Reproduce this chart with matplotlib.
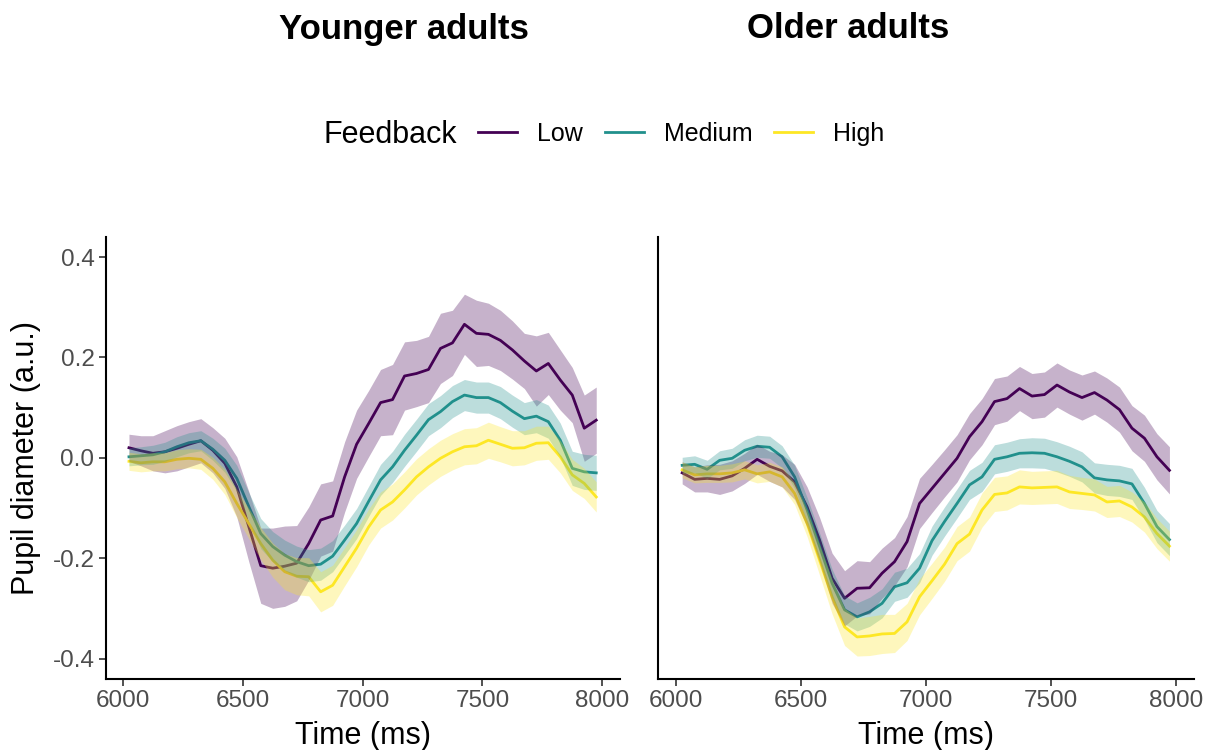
import numpy as np
import matplotlib
matplotlib.use("Agg")
import matplotlib.pyplot as plt
from matplotlib.lines import Line2D

plt.rcParams['font.family'] = ['Liberation Sans', 'DejaVu Sans']

# ---- data ----
time_ms = np.arange(6025, 8000, 50)  # 40 bin centres
feedback = ["Low", "Medium", "High"]
colors = ["#440154", "#21908C", "#FDE725"]
panel_titles = ["Younger adults", "Older adults"]

young_low = [0.020, 0.014, 0.009, 0.012, 0.019, 0.027, 0.034, 0.015, -0.011, -0.058,
             -0.137, -0.215, -0.220, -0.216, -0.210, -0.171, -0.124, -0.116, -0.038, 0.027,
             0.068, 0.110, 0.116, 0.163, 0.168, 0.176, 0.218, 0.229, 0.266, 0.248,
             0.246, 0.234, 0.215, 0.193, 0.173, 0.188, 0.155, 0.125, 0.059, 0.075]
young_med = [0.002, 0.004, 0.006, 0.012, 0.022, 0.030, 0.034, 0.017, -0.005, -0.041,
             -0.097, -0.151, -0.177, -0.194, -0.207, -0.215, -0.212, -0.196, -0.164, -0.131,
             -0.087, -0.044, -0.018, 0.015, 0.045, 0.076, 0.092, 0.112, 0.125, 0.120,
             0.120, 0.110, 0.093, 0.078, 0.083, 0.072, 0.035, -0.021, -0.028, -0.030]
young_high = [-0.007, -0.010, -0.008, -0.008, -0.003, -0.001, -0.003, -0.021, -0.048, -0.091,
              -0.131, -0.171, -0.204, -0.227, -0.236, -0.237, -0.267, -0.254, -0.217, -0.180,
              -0.138, -0.104, -0.088, -0.064, -0.038, -0.018, -0.001, 0.012, 0.022, 0.024,
              0.035, 0.027, 0.019, 0.020, 0.029, 0.030, 0.002, -0.034, -0.051, -0.078]

young_low_se = [0.027, 0.030, 0.035, 0.042, 0.045, 0.045, 0.044, 0.045, 0.050, 0.060,
                0.070, 0.075, 0.080, 0.080, 0.075, 0.073, 0.072, 0.070, 0.070, 0.068,
                0.066, 0.066, 0.070, 0.068, 0.066, 0.066, 0.070, 0.065, 0.060, 0.066,
                0.062, 0.060, 0.058, 0.055, 0.070, 0.062, 0.060, 0.055, 0.066, 0.066]
young_med_se = [0.018, 0.018, 0.019, 0.019, 0.020, 0.020, 0.020, 0.022, 0.024, 0.026,
                0.028, 0.030, 0.030, 0.030, 0.031, 0.032, 0.032, 0.031, 0.030, 0.030,
                0.030, 0.031, 0.031, 0.032, 0.032, 0.032, 0.032, 0.032, 0.031, 0.031,
                0.031, 0.032, 0.032, 0.032, 0.033, 0.033, 0.034, 0.034, 0.035, 0.035]
young_high_se = [0.018, 0.018, 0.018, 0.018, 0.019, 0.019, 0.020, 0.022, 0.025, 0.028,
                 0.030, 0.032, 0.034, 0.036, 0.037, 0.038, 0.040, 0.040, 0.038, 0.037,
                 0.036, 0.036, 0.036, 0.036, 0.036, 0.036, 0.036, 0.036, 0.036, 0.036,
                 0.036, 0.035, 0.035, 0.034, 0.034, 0.033, 0.032, 0.031, 0.030, 0.030]

old_low = [-0.030, -0.043, -0.041, -0.043, -0.036, -0.021, -0.003, -0.017, -0.026, -0.048,
           -0.098, -0.164, -0.240, -0.280, -0.260, -0.259, -0.230, -0.207, -0.167, -0.091,
           -0.061, -0.031, -0.001, 0.042, 0.072, 0.112, 0.118, 0.138, 0.123, 0.126,
           0.145, 0.131, 0.120, 0.130, 0.115, 0.096, 0.059, 0.039, 0.002, -0.025]
old_med = [-0.015, -0.013, -0.023, -0.005, -0.001, 0.015, 0.023, 0.021, 0.002, -0.038,
           -0.104, -0.177, -0.250, -0.303, -0.317, -0.307, -0.290, -0.257, -0.249, -0.220,
           -0.165, -0.127, -0.091, -0.054, -0.038, -0.003, 0.002, 0.009, 0.010, 0.009,
           0.002, -0.007, -0.018, -0.040, -0.044, -0.046, -0.052, -0.091, -0.137, -0.163]
old_high = [-0.024, -0.034, -0.032, -0.032, -0.030, -0.024, -0.032, -0.028, -0.038, -0.071,
            -0.131, -0.204, -0.277, -0.337, -0.357, -0.355, -0.351, -0.350, -0.327, -0.277,
            -0.245, -0.212, -0.171, -0.152, -0.104, -0.073, -0.070, -0.058, -0.060, -0.059,
            -0.058, -0.068, -0.071, -0.074, -0.088, -0.086, -0.098, -0.118, -0.151, -0.176]

old_low_se = [0.022, 0.025, 0.027, 0.030, 0.030, 0.030, 0.030, 0.030, 0.032, 0.035,
              0.040, 0.045, 0.050, 0.055, 0.055, 0.052, 0.050, 0.048, 0.050, 0.050,
              0.048, 0.047, 0.047, 0.046, 0.046, 0.046, 0.045, 0.044, 0.045, 0.045,
              0.044, 0.044, 0.045, 0.043, 0.044, 0.045, 0.045, 0.046, 0.046, 0.047]
old_med_se = [0.016, 0.017, 0.018, 0.019, 0.020, 0.021, 0.022, 0.022, 0.022, 0.023,
              0.025, 0.027, 0.028, 0.028, 0.028, 0.029, 0.029, 0.029, 0.029, 0.029,
              0.029, 0.029, 0.029, 0.029, 0.029, 0.029, 0.029, 0.029, 0.030, 0.030,
              0.030, 0.030, 0.030, 0.030, 0.031, 0.031, 0.031, 0.032, 0.032, 0.032]
old_high_se = [0.016, 0.016, 0.017, 0.017, 0.018, 0.018, 0.018, 0.019, 0.020, 0.022,
               0.026, 0.030, 0.034, 0.037, 0.038, 0.039, 0.039, 0.038, 0.037, 0.036,
               0.035, 0.034, 0.034, 0.034, 0.034, 0.034, 0.034, 0.034, 0.033, 0.033,
               0.033, 0.033, 0.032, 0.032, 0.031, 0.031, 0.030, 0.030, 0.030, 0.030]

x_ticks = [6000, 6500, 7000, 7500, 8000]
y_ticks = [-0.4, -0.2, 0.0, 0.2, 0.4]

panels = [
    ([young_low, young_med, young_high], [young_low_se, young_med_se, young_high_se]),
    ([old_low, old_med, old_high], [old_low_se, old_med_se, old_high_se]),
]

# ---- figure ----
W, H = 1207, 750
fig = plt.figure(figsize=(W / 100, H / 100), dpi=100)

ax_boxes = [
    (105.6 / W, (H - 678.6) / H, 514.0 / W, 441.6 / H),
    (657.8 / W, (H - 678.6) / H, 536.0 / W, 441.6 / H),
]
title_x = [404 / W, 848 / W]

for p, ((means, ses), box) in enumerate(zip(panels, ax_boxes)):
    ax = fig.add_axes(box)
    for m, s, c in zip(means, ses, colors):
        ax.plot(time_ms, m, color=c, lw=2.0, zorder=2)
    for m, s, c in zip(means, ses, colors):
        m = np.asarray(m)
        s = np.asarray(s)
        ax.fill_between(time_ms, m - s, m + s, color=c, alpha=0.3, lw=0, zorder=3)
    ax.set_xlim(5927.5, 8072.5)
    ax.set_ylim(-0.44, 0.44)
    for sp in ["top", "right"]:
        ax.spines[sp].set_visible(False)
    for sp in ["left", "bottom"]:
        ax.spines[sp].set_linewidth(1.5)
        ax.spines[sp].set_color("black")
    ax.set_xticks(x_ticks)
    ax.set_xticklabels([str(t) for t in x_ticks])
    ax.tick_params(axis="both", length=5, width=1.2, color="#333333",
                   labelsize=17.5, labelcolor="#4D4D4D", pad=3)
    ax.set_xlabel("Time (ms)", fontsize=22, color="black", labelpad=7)
    if p == 0:
        ax.set_yticks(y_ticks)
        ax.set_yticklabels([f"{v:.1f}" for v in y_ticks])
        ax.set_ylabel("Pupil diameter (a.u.)", fontsize=22, color="black", labelpad=8)
    else:
        ax.set_yticks([])
    fig.text(title_x[p], 1 - 29 / H, panel_titles[p], ha="center", va="center",
             fontsize=25, fontweight="bold")

# legend
handles = [Line2D([], [], color=c, lw=2.0) for c in colors]
fig.text(323 / W, 1 - 135 / H, "Feedback", ha="left", va="center", fontsize=22)
fig.legend(handles, feedback, loc="center left", bbox_to_anchor=(478 / W, 1 - 134 / H),
           ncol=3, frameon=False, fontsize=18, handlelength=1.56, handletextpad=0.8,
           columnspacing=0.88, borderpad=0, borderaxespad=0)

fig.savefig("out.png", dpi=100)
